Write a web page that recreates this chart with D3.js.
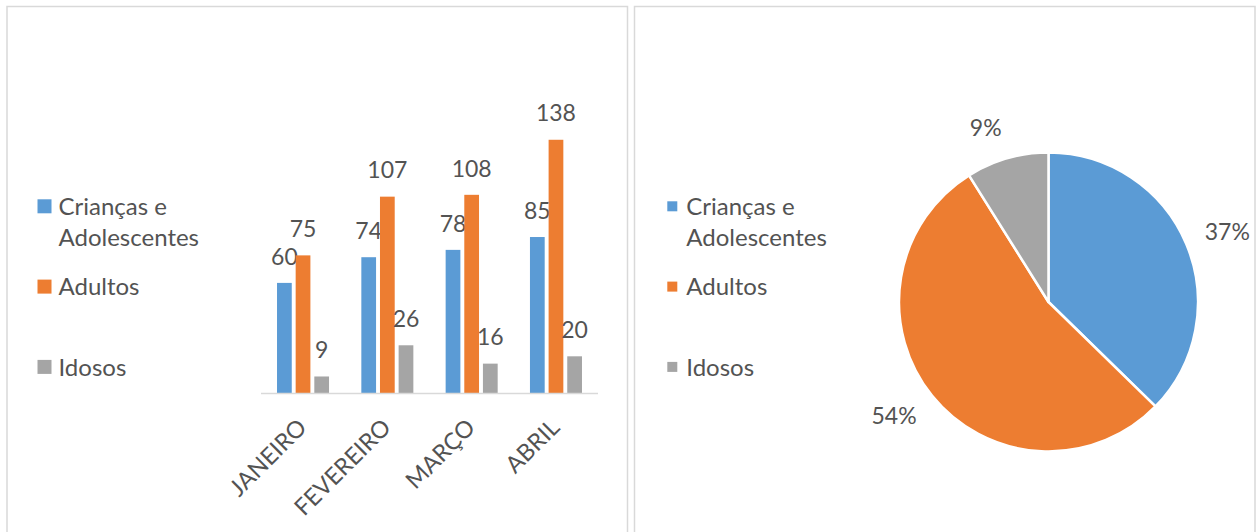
<!DOCTYPE html>
<html>
<head>
<meta charset="utf-8">
<script src="https://cdn.jsdelivr.net/npm/d3@7"></script>
<style>
  body { margin: 0; background: #fff; }
  text { font-family: Lato, "Open Sans", sans-serif; fill: #535353; }
</style>
</head>
<body>
<div id="target"></div>
<script>
const months = ["JANEIRO", "FEVEREIRO", "MARÇO", "ABRIL"];
const seriesNames = ["Crianças e Adolescentes", "Adultos", "Idosos"];
const legendLines = [["Crianças e", "Adolescentes"], ["Adultos"], ["Idosos"]];
const criancas = [60, 74, 78, 85];
const adultos = [75, 107, 108, 138];
const idosos = [9, 26, 16, 20];
const colors = ["#5B9BD5", "#ED7D31", "#A5A5A5"];

function drawCharts() {
  const width = 1258,
    height = 532;

  const series = [criancas, adultos, idosos];

  const svg = d3.select("#target")
    .append("svg")
    .attr("width", width)
    .attr("height", height);

  // panel frames
  svg.selectAll("rect.frame")
    .data([7, 634.5])
    .enter()
    .append("rect")
    .attr("class", "frame")
    .attr("x", (d) => d)
    .attr("y", 6.5)
    .attr("width", 620.5)
    .attr("height", 540)
    .style("fill", "none")
    .style("stroke", "#D9D9D9")
    .style("stroke-width", 1.5);

  const color = d3.scaleOrdinal()
    .domain(d3.range(3))
    .range(colors);

  // legends
  function legend(x, size) {
    const item = svg.append("g")
      .selectAll("g")
      .data(legendLines)
      .enter()
      .append("g")
      .attr("transform", (d, i) => `translate(${x},${206.3 + i * 80.3})`);

    item.append("rect")
      .attr("x", -size / 2)
      .attr("y", -size / 2)
      .attr("width", size)
      .attr("height", size)
      .style("fill", (d, i) => color(i));

    item.append("text")
      .style("font-size", "24px")
      .selectAll("tspan")
      .data((d) => d)
      .enter()
      .append("tspan")
      .attr("x", 14)
      .attr("y", (d, i) => 8.7 + i * 31.5)
      .text((d) => d);
  }
  legend(44.5, 14);
  legend(672.3, 10);

  // bar chart
  const x0 = d3.scaleBand()
    .domain(months)
    .range([261, 598])
    .paddingInner(0.383)
    .paddingOuter(0.19);

  const x1 = d3.scaleBand()
    .domain(d3.range(3))
    .range([0, x0.bandwidth()])
    .paddingInner(0.21);

  const y = d3.scaleLinear()
    .domain([0, 160])
    .range([393, 99.4]);

  const month = svg.append("g")
    .selectAll("g")
    .data(months)
    .enter()
    .append("g")
    .attr("transform", (d) => `translate(${x0(d)},0)`);

  const cells = month.selectAll("g")
    .data((d, mi) => series.map((s, si) => ({ s: si, v: s[mi] })))
    .enter()
    .append("g");

  cells.append("rect")
    .attr("x", (d) => x1(d.s))
    .attr("y", (d) => y(d.v))
    .attr("width", x1.bandwidth())
    .attr("height", (d) => y(0) - y(d.v))
    .style("fill", (d) => color(d.s));

  cells.append("text")
    .attr("x", (d) => x1(d.s) + x1.bandwidth() / 2)
    .attr("y", (d) => y(d.v) - 18.3)
    .attr("text-anchor", "middle")
    .style("font-size", "23px")
    .text((d) => d.v);

  svg.append("line")
    .attr("x1", 261)
    .attr("x2", 598)
    .attr("y1", y(0) + 0.5)
    .attr("y2", y(0) + 0.5)
    .style("stroke", "#D9D9D9")
    .style("stroke-width", 1.5);

  svg.append("g")
    .selectAll("text")
    .data(months)
    .enter()
    .append("text")
    .attr("text-anchor", "end")
    .attr("transform", (d) => `translate(${x0(d) + x0.bandwidth() / 2 + 5},429) rotate(-45)`)
    .style("font-size", "23.5px")
    .text((d) => d);

  // pie chart
  const totals = series.map((s) => d3.sum(s));
  const total = d3.sum(totals);
  const radius = 149.5;

  const pie = d3.pie()
    .sort(null)
    .value((d) => d);

  const arc = d3.arc()
    .innerRadius(0)
    .outerRadius(radius);

  const pg = svg.append("g")
    .attr("transform", "translate(1048.5,302)");

  const slices = pie(totals);

  pg.selectAll("path")
    .data(slices)
    .enter()
    .append("path")
    .attr("d", arc)
    .style("fill", (d) => color(d.index))
    .style("stroke", "#fff")
    .style("stroke-width", 2.5)
    .style("stroke-linejoin", "round");

  pg.selectAll("text")
    .data(slices)
    .enter()
    .append("text")
    .each((d) => d.angle = (d.startAngle + d.endAngle) / 2)
    .attr("text-anchor", (d) => {
      const s = Math.sin(d.angle);
      return s > 0.2 ? "start" : s < -0.2 ? "end" : "middle";
    })
    .attr("x", (d) => Math.sin(d.angle) * (radius + 20))
    .attr("y", (d) => -Math.cos(d.angle) * (radius + 20) - Math.cos(d.angle) * 12 + 8)
    .style("font-size", "23px")
    .text((d) => d3.format(".0%")(d.value / total));
}

drawCharts();
</script>
</body>
</html>
